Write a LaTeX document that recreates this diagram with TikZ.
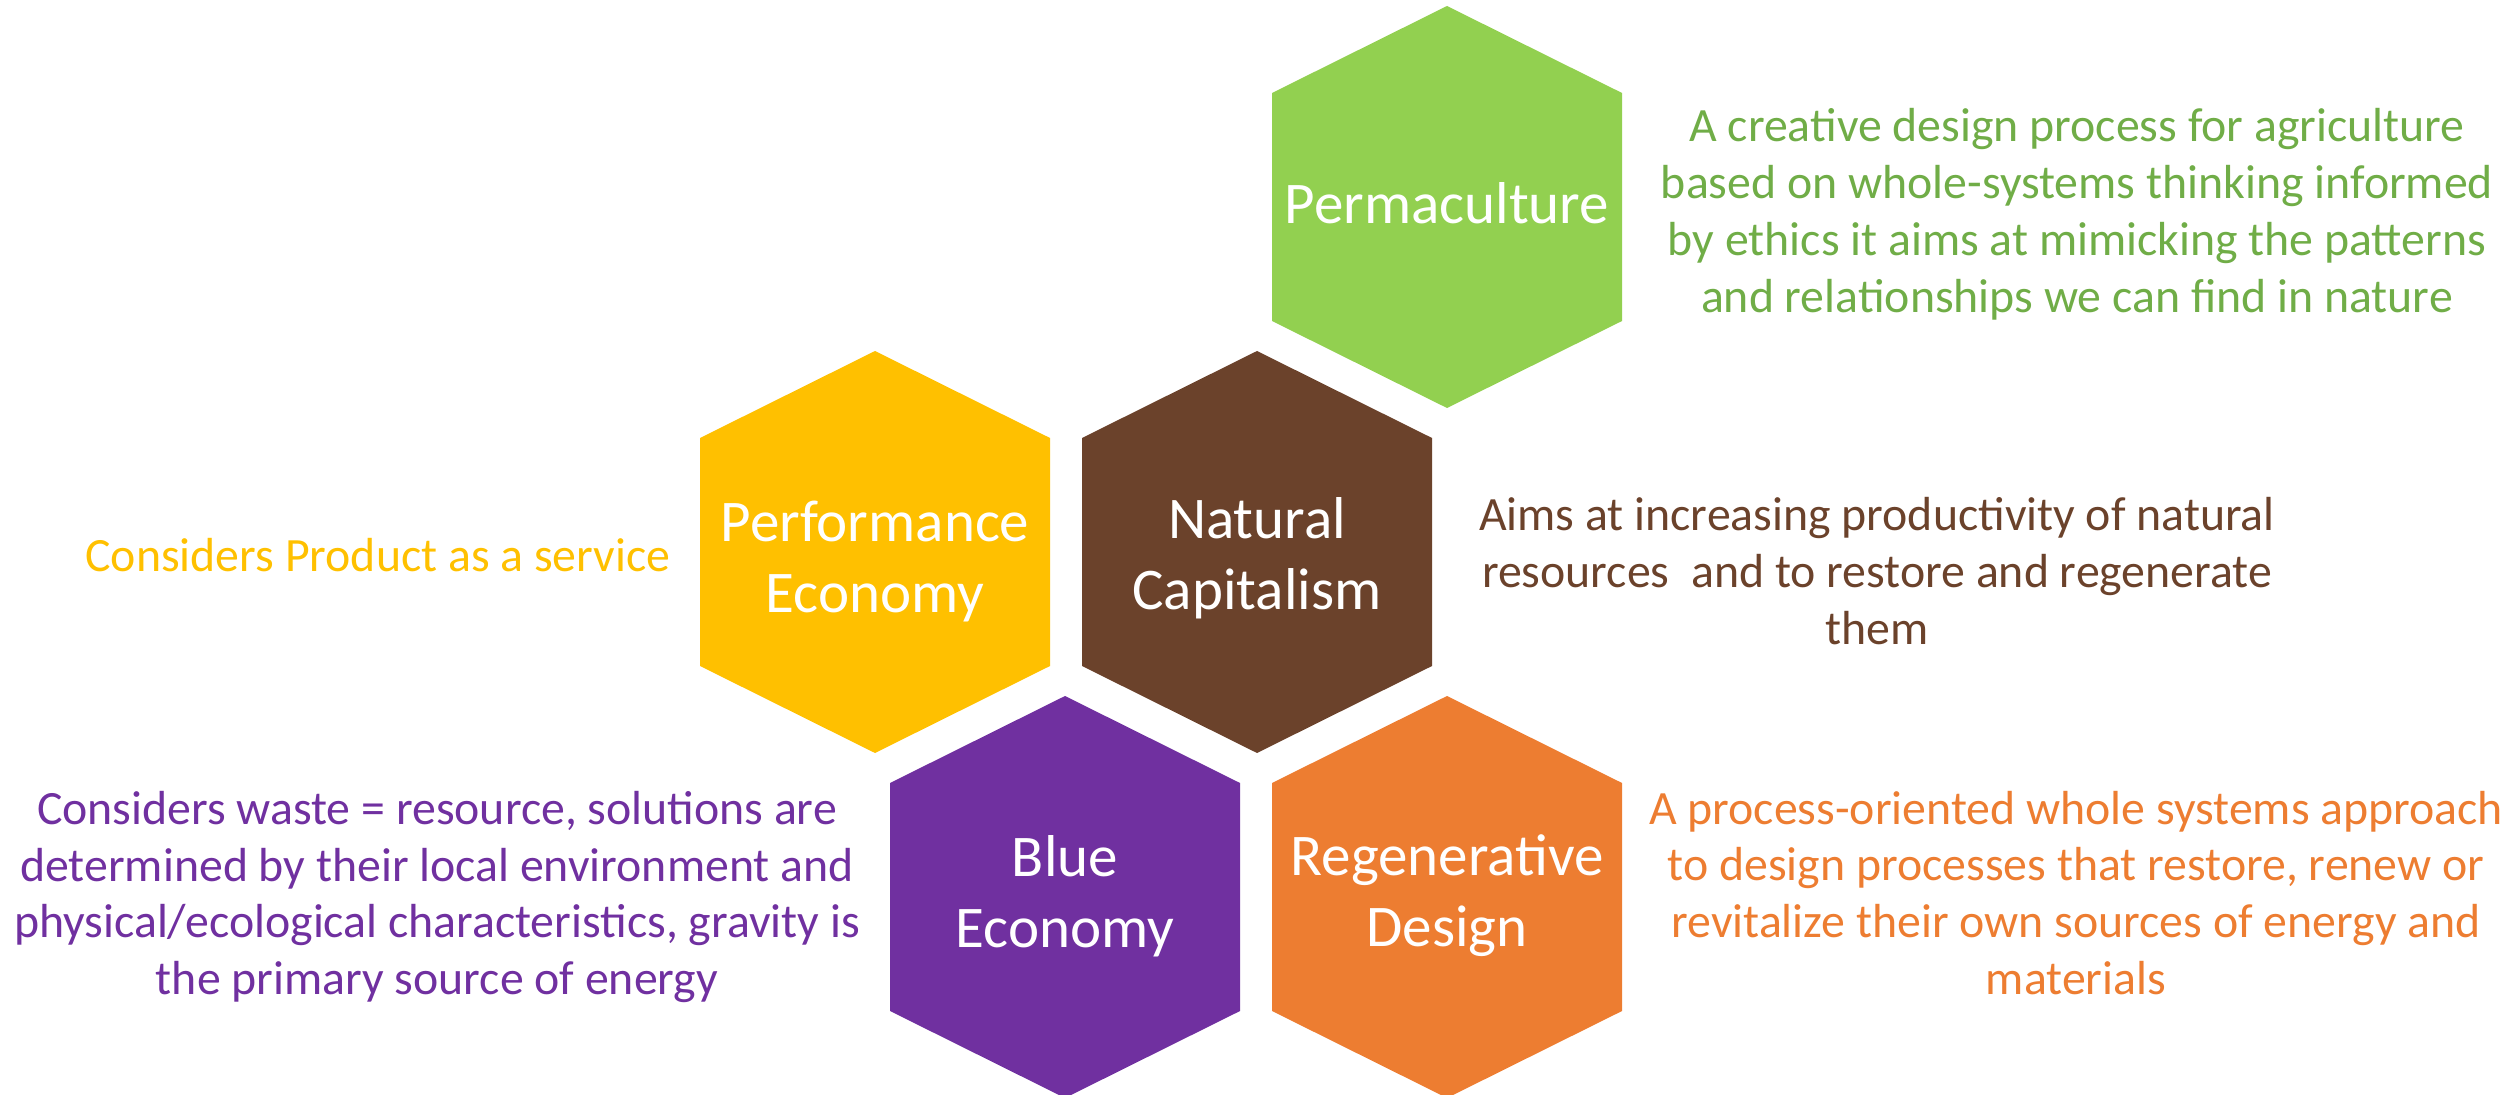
\documentclass[tikz,border=0pt]{standalone}
\usepackage{fontspec}
\setmainfont{Carlito}
\usepackage{tikz}

\definecolor{permagreen}{HTML}{92D050}
\definecolor{permatext}{HTML}{70AD47}
\definecolor{perfyellow}{HTML}{FFC000}
\definecolor{natbrown}{HTML}{6B422B}
\definecolor{bluepurple}{HTML}{7030A0}
\definecolor{regenorange}{HTML}{ED7D31}

% hexagon cell: centre x, centre y, colour
\newcommand{\hexcell}[3]{\fill[#3] (#1,#2) ++(0,2.01) -- ++(1.75,-0.87) -- ++(0,-2.28) -- ++(-1.75,-0.87) -- ++(-1.75,0.87) -- ++(0,2.28) -- cycle;}

\begin{document}
\begin{tikzpicture}[
    hex_label/.style={white, align=center, font=\fontsize{16.8}{20.2}\selectfont},
    desc_text/.style={align=center, font=\fontsize{13.6}{16.2}\selectfont}
  ]
        \useasboundingbox (0,0) rectangle (25.09,-10.95);

        % hexagons
        \hexcell{14.47}{-2.07}{permagreen}
        \hexcell{8.75}{-5.52}{perfyellow}
        \hexcell{12.57}{-5.52}{natbrown}
        \hexcell{10.65}{-8.97}{bluepurple}
        \hexcell{14.47}{-8.97}{regenorange}

        \node[hex_label] (hex_perma) at (14.47,-2.03) {Permaculture};
        \node[hex_label] (hex_perf) at (8.75,-5.62) {Performance\\Economy};
        \node[hex_label] (hex_nat) at (12.57,-5.58) {Natural\\Capitalism};
        \node[hex_label] (hex_blue) at (10.65,-8.96) {Blue\\Economy};
        \node[hex_label] (hex_regen) at (14.47,-8.96) {Regenerative\\Design};

        % descriptions
        \node[desc_text, permatext] (text_perma) at (20.77,-2.14) {A creative design process for agriculture\\based on whole-systems thinking informed\\by ethics it aims at mimicking the patterns\\and relationships we can find in nature};

        \node[desc_text, perfyellow] (text_perf) at (3.78,-5.55) {Considers Product as a service};

        \node[desc_text, natbrown] (text_nat) at (18.77,-5.71) {Aims at increasing productivity of natural\\resources~ and to restore and regenerate\\them};

        \node[desc_text, bluepurple] (text_blue) at (4.37,-8.97) {Considers waste = resource, solutions are\\determined by their local environment and\\physical/ecological characteristics, gravity is\\the primary source of energy};

        \node[desc_text, regenorange] (text_regen) at (20.76,-8.93) {A process-oriented whole systems approach\\to design processes that restore, renew or\\revitalize their own sources of energy and\\materials};
\end{tikzpicture}
\end{document}
